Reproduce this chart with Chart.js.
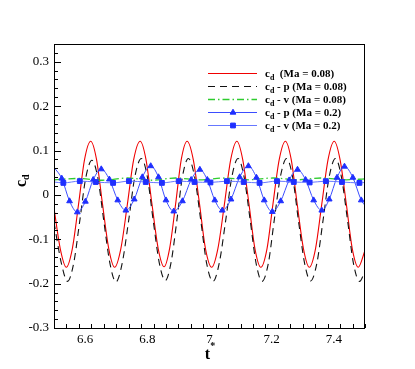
<!DOCTYPE html>
<html><head><meta charset="utf-8">
<script src="https://cdn.jsdelivr.net/npm/chart.js@4/dist/chart.umd.min.js"></script>
<style>html,body{margin:0;padding:0;background:#fff;}#wrap{width:415px;height:369px;}</style>
</head><body><div id="wrap"><canvas id="c" width="415" height="369"></canvas></div>
<script>
// ---------- data ----------
const seriesLabels = ['c_d  (Ma = 0.08)', 'c_d - p (Ma = 0.08)', 'c_d - v (Ma = 0.08)', 'c_d - p (Ma = 0.2)', 'c_d - v (Ma = 0.2)'];
const xTickValues = [6.6, 6.8, 7.0, 7.2, 7.4];
const xTickLabels = ['6.6', '6.8', '7', '7.2', '7.4'];
const yTickValues = [-0.3, -0.2, -0.1, 0, 0.1, 0.2, 0.3];
const yTickLabels = ['-0.3', '-0.2', '-0.1', '0', '0.1', '0.2', '0.3'];
const xTitle = 't';
const xTitleSup = '*';
const yTitle = 'c_d';

// c_d (Ma = 0.08)
const tRed = [6.5, 6.52, 6.5395, 6.559, 6.579, 6.598, 6.618, 6.637, 6.656, 6.676, 6.695, 6.715, 6.736, 6.756, 6.777, 6.796, 6.815, 6.835, 6.854, 6.872, 6.891, 6.909, 6.928, 6.948, 6.968, 6.987, 7.007, 7.027, 7.048, 7.068, 7.088, 7.107, 7.127, 7.146, 7.165, 7.185, 7.204, 7.224, 7.244, 7.263, 7.282, 7.302, 7.321, 7.341, 7.361, 7.381, 7.401, 7.42, 7.44, 7.459, 7.4785, 7.5];
const cdRed = [-0.030, -0.121, -0.163,
  -0.121, -0.021, 0.079, 0.121, 0.079, -0.021, -0.121, -0.163,
  -0.121, -0.021, 0.079, 0.121, 0.079, -0.021, -0.121, -0.162,
  -0.120, -0.021, 0.079, 0.121, 0.079, -0.021, -0.121, -0.163,
  -0.121, -0.021, 0.079, 0.121, 0.079, -0.021, -0.121, -0.163,
  -0.121, -0.021, 0.079, 0.121, 0.079, -0.021, -0.121, -0.163,
  -0.121, -0.021, 0.079, 0.121, 0.079, -0.021, -0.121, -0.163,
  -0.125];

// c_d - p (Ma = 0.08)
const tBlack = [6.5, 6.524, 6.5435, 6.563, 6.583, 6.602, 6.622, 6.641, 6.66, 6.68, 6.699, 6.719, 6.74, 6.76, 6.781, 6.8, 6.819, 6.839, 6.858, 6.876, 6.895, 6.913, 6.932, 6.952, 6.972, 6.991, 7.011, 7.031, 7.052, 7.072, 7.092, 7.111, 7.131, 7.15, 7.169, 7.189, 7.208, 7.228, 7.248, 7.267, 7.286, 7.306, 7.325, 7.345, 7.365, 7.385, 7.405, 7.424, 7.444, 7.463, 7.4825, 7.5];
const cdBlack = [-0.062, -0.155, -0.195,
  -0.155, -0.058, 0.038, 0.078, 0.038, -0.058, -0.155, -0.196,
  -0.155, -0.058, 0.041, 0.082, 0.041, -0.058, -0.155, -0.193,
  -0.154, -0.058, 0.041, 0.082, 0.041, -0.058, -0.155, -0.195,
  -0.155, -0.058, 0.041, 0.082, 0.041, -0.058, -0.155, -0.195,
  -0.155, -0.058, 0.041, 0.082, 0.041, -0.058, -0.155, -0.194,
  -0.155, -0.058, 0.041, 0.082, 0.041, -0.058, -0.155, -0.195,
  -0.172];

// c_d - v (Ma = 0.08)
const tGreen = [6.5, 6.579, 6.656, 6.736, 6.815, 6.891, 6.968, 7.048, 7.127, 7.204, 7.282, 7.361, 7.44, 7.5];
const cdGreen = [0.034, 0.037, 0.033, 0.038, 0.033, 0.038, 0.034, 0.038, 0.034, 0.038, 0.034, 0.038, 0.034, 0.036];

// c_d - p (Ma = 0.2)
const tTri = [6.5, 6.525, 6.55, 6.575, 6.601, 6.626, 6.652, 6.678, 6.705, 6.731, 6.758, 6.784, 6.811, 6.836, 6.86, 6.885, 6.913, 6.941, 6.969, 6.993, 7.017, 7.041, 7.069, 7.097, 7.125, 7.151, 7.176, 7.202, 7.229, 7.256, 7.283, 7.309, 7.335, 7.361, 7.385, 7.41, 7.434, 7.461, 7.488, 7.5];
const cdTri = [0.062, 0.037, -0.014, -0.039, -0.015, 0.034, 0.058, 0.035, -0.012, -0.035, -0.010, 0.040, 0.065, 0.040, -0.012, -0.037, -0.014, 0.034, 0.057, 0.034, -0.012, -0.035, -0.010, 0.040, 0.065, 0.039, -0.012, -0.038, -0.014, 0.033, 0.057, 0.034, -0.012, -0.035, -0.010, 0.039, 0.064, 0.039, -0.012, -0.024];

// c_d - v (Ma = 0.2)
const tSq = [6.5, 6.53, 6.583, 6.634, 6.69, 6.741, 6.795, 6.847, 6.901, 6.952, 7.003, 7.056, 7.11, 7.161, 7.217, 7.271, 7.322, 7.374, 7.426, 7.482, 7.5];
const cdSq = [0.029, 0.027, 0.031, 0.029, 0.027, 0.031, 0.029, 0.027, 0.031, 0.029, 0.028, 0.031, 0.029, 0.027, 0.031, 0.029, 0.028, 0.031, 0.029, 0.027, 0.028];

// ---------- chart ----------
const SERIF = '"Liberation Serif", "Times New Roman", serif';
const pts = (xs, ys) => xs.map((x, i) => ({x: x, y: ys[i]}));
const edgeHidden = (n, r) => Array.from({length: n}, (_, i) => (i === 0 || i === n - 1) ? 0 : r);

const datasets = [
  {label: seriesLabels[0], data: pts(tRed, cdRed), borderColor: '#f00000', borderWidth: 1.1, pointRadius: 0, order: 5},
  {label: seriesLabels[1], data: pts(tBlack, cdBlack), borderColor: '#111111', borderWidth: 1.1, borderDash: [7, 5], pointRadius: 0, order: 4},
  {label: seriesLabels[2], data: pts(tGreen, cdGreen), borderColor: '#2ecc2e', borderWidth: 1.3, borderDash: [7, 3, 1.5, 3], pointRadius: 0, order: 3},
  {label: seriesLabels[3], data: pts(tTri, cdTri), borderColor: '#3b4dff', borderWidth: 1, pointStyle: 'triangle',
   pointRadius: edgeHidden(tTri.length, 3.3), pointBackgroundColor: '#1f2fff', pointBorderColor: '#1f2fff', pointBorderWidth: 1, order: 2},
  {label: seriesLabels[4], data: pts(tSq, cdSq), borderColor: '#6677ff', borderWidth: 1, pointStyle: 'rect',
   pointRadius: edgeHidden(tSq.length, 3.4), pointBackgroundColor: '#1f2fff', pointBorderColor: '#1f2fff', pointBorderWidth: 1, order: 1}
];
datasets.forEach(d => { d.fill = false; d.cubicInterpolationMode = 'monotone'; });

function drawRich(ctx, text, x, y, size, subSize, subDrop) {
  const i = text.indexOf('_');
  ctx.font = 'bold ' + size + 'px ' + SERIF;
  if (i < 0) { ctx.fillText(text, x, y); return; }
  const head = text.slice(0, i), sub = text[i + 1], rest = text.slice(i + 2);
  let cx = x;
  ctx.fillText(head, cx, y); cx += ctx.measureText(head).width;
  ctx.font = 'bold ' + subSize + 'px ' + SERIF;
  ctx.fillText(sub, cx, y + subDrop); cx += ctx.measureText(sub).width;
  ctx.font = 'bold ' + size + 'px ' + SERIF;
  if (rest) ctx.fillText(rest, cx, y);
}

function drawMarker(ctx, style, r, x, y) {
  ctx.beginPath();
  if (style === 'triangle') {
    let a = 0;
    ctx.moveTo(x + Math.sin(a) * r, y - Math.cos(a) * r);
    a += 2 * Math.PI / 3; ctx.lineTo(x + Math.sin(a) * r, y - Math.cos(a) * r);
    a += 2 * Math.PI / 3; ctx.lineTo(x + Math.sin(a) * r, y - Math.cos(a) * r);
    ctx.closePath();
  } else if (style === 'rect') {
    const s = r * Math.SQRT1_2;
    ctx.rect(x - s, y - s, 2 * s, 2 * s);
  }
  ctx.fill(); ctx.stroke();
}

const decorPlugin = {
  id: 'decor',
  afterDatasetsDraw(chart) {
    const ctx = chart.ctx, a = chart.chartArea;
    const xs = chart.scales.x, ys = chart.scales.y;
    ctx.save();
    // frame
    ctx.strokeStyle = '#000'; ctx.lineWidth = 1; ctx.setLineDash([]);
    ctx.strokeRect(Math.round(a.left) + 0.5, Math.round(a.top) + 0.5, Math.round(a.right - a.left) - 1, Math.round(a.bottom - a.top));
    // inward ticks on bottom axis (major + minor every 0.04)
    ctx.beginPath();
    for (let k = 0; k <= 25; k++) {
      const v = 6.5 + k * 0.04;
      if (v > 7.5 + 1e-9) break;
      const isMajor = xTickValues.some(m => Math.abs(m - v) < 1e-6);
      if (k === 0) continue;
      const px = Math.round(xs.getPixelForValue(v)) + 0.5;
      const len = isMajor ? 7 : 4;
      ctx.moveTo(px, a.bottom); ctx.lineTo(px, a.bottom - len);
    }
    // inward ticks on left axis (major + minor every 0.02)
    for (let k = -14; k <= 17; k++) {
      const v = k * 0.02;
      const isMajor = (k % 5 === 0);
      const py = Math.round(ys.getPixelForValue(v)) + 0.5;
      const len = isMajor ? 7 : 4;
      ctx.moveTo(a.left, py); ctx.lineTo(a.left + len, py);
    }
    ctx.stroke();

    // legend
    const lx0 = 208, lx1 = 257, tx = 265, ry0 = 73, dy = 13;
    chart.data.datasets.forEach((d, i) => {
      const y = ry0 + i * dy;
      ctx.save();
      ctx.strokeStyle = d.borderColor; ctx.lineWidth = d.borderWidth;
      ctx.setLineDash(d.borderDash || []);
      ctx.beginPath(); ctx.moveTo(lx0, y + 0.5); ctx.lineTo(lx1, y + 0.5); ctx.stroke();
      ctx.setLineDash([]);
      if (d.pointStyle) {
        ctx.fillStyle = d.pointBackgroundColor; ctx.strokeStyle = d.pointBorderColor; ctx.lineWidth = 1;
        drawMarker(ctx, d.pointStyle, d.pointStyle === 'rect' ? 3.4 : 3.3, (lx0 + lx1) / 2 + 0.5, y + 0.5);
      }
      ctx.restore();
      ctx.fillStyle = '#000'; ctx.textBaseline = 'alphabetic'; ctx.textAlign = 'left';
      drawRich(ctx, d.label, tx, y + 4, 11, 8, 2.5);
    });

    // axis titles
    ctx.fillStyle = '#000'; ctx.textAlign = 'left'; ctx.textBaseline = 'alphabetic';
    ctx.font = 'bold 16px ' + SERIF;
    const tw = ctx.measureText(xTitle).width;
    const xc = (xs.getPixelForValue(7.0));
    ctx.fillText(xTitle, xc - tw / 2 - 2, 359);
    ctx.font = 'bold 10px ' + SERIF;
    ctx.fillText(xTitleSup, xc - tw / 2 - 2 + tw, 349);
    ctx.save();
    ctx.translate(26, 187);
    ctx.rotate(-Math.PI / 2);
    drawRich(ctx, yTitle, 0, 0, 16, 10, 3);
    ctx.restore();
    ctx.restore();
  }
};

new Chart(document.getElementById('c'), {
  type: 'line',
  data: {datasets: datasets},
  options: {
    responsive: false,
    animation: false,
    events: [],
    layout: {padding: {left: 0, top: 44, right: 50, bottom: 0}},
    plugins: {legend: {display: false}, tooltip: {enabled: false}},
    scales: {
      x: {
        type: 'linear', min: 6.5, max: 7.5,
        grid: {display: false, drawTicks: false},
        border: {display: false},
        afterBuildTicks: s => { s.ticks = xTickValues.map(v => ({value: v})); },
        afterFit: s => { s.height = 41; },
        ticks: {
          color: '#000', padding: 4, maxRotation: 0, autoSkip: false,
          font: {family: SERIF, size: 13},
          callback: (v, i) => xTickLabels[i]
        }
      },
      y: {
        type: 'linear', min: -0.3, max: 0.34,
        grid: {display: false, drawTicks: false},
        border: {display: false},
        afterBuildTicks: s => { s.ticks = yTickValues.map(v => ({value: v})); },
        afterFit: s => { s.width = 54; },
        ticks: {
          color: '#000', padding: 5, autoSkip: false,
          font: {family: SERIF, size: 13},
          callback: (v, i) => yTickLabels[i]
        }
      }
    }
  },
  plugins: [decorPlugin]
});
</script>
</body></html>
